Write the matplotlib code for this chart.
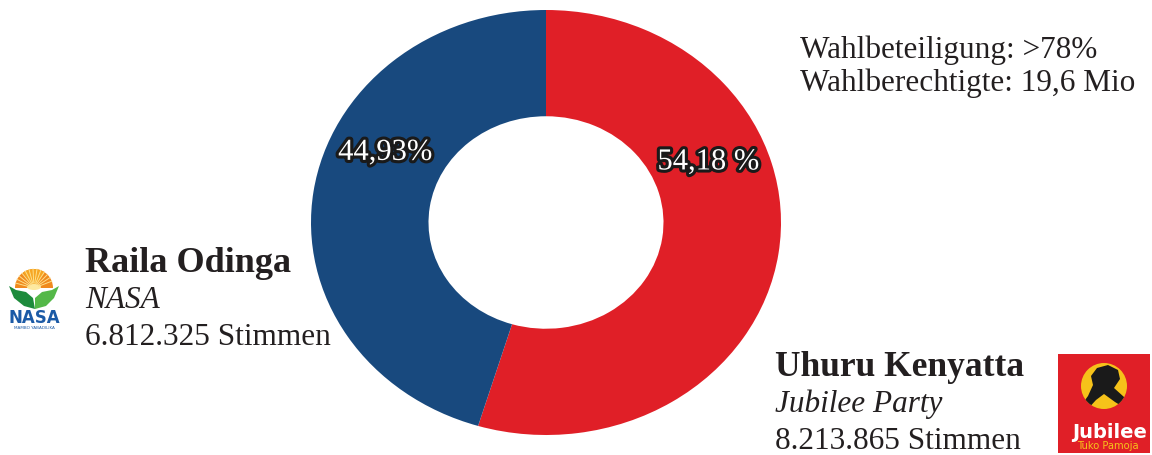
import matplotlib
matplotlib.use('Agg')
import numpy as np
import matplotlib.pyplot as plt
import matplotlib.patheffects as path_effects
from matplotlib.patches import Rectangle, Circle, Wedge, Polygon, Ellipse

plt.rcParams['font.family'] = ['Liberation Serif', 'DejaVu Serif']

# data
candidates = ['Uhuru Kenyatta', 'Raila Odinga']
parties = ['Jubilee Party', 'NASA']
shares = [54.18, 44.93]
share_labels = ['54,18 %', '44,93%']
votes = ['8.213.865 Stimmen', '6.812.325 Stimmen']
info_lines = ['Wahlbeteiligung: >78%', 'Wahlberechtigte: 19,6 Mio']

colors = {'red': '#E01F27', 'blue': '#18497E', 'text': '#231F20',
          'yellow': '#F6C21A', 'orange': '#F08A1E', 'green': '#2E9E46'}

W, H = 1152, 455
fig = plt.figure(figsize=(W / 100, H / 100), dpi=100)

# overlay axes in pixel coords
ax = fig.add_axes([0, 0, 1, 1])
ax.set_xlim(0, W)
ax.set_ylim(H, 0)
ax.axis('off')

# donut (stretched slightly, like the original)
axp = fig.add_axes([311 / W, (H - 435) / H, 470 / W, 425 / H])
axp.pie(shares, colors=[colors['red'], colors['blue']], startangle=90,
        counterclock=False, radius=1,
        wedgeprops=dict(width=0.5, linewidth=0))
axp.set_aspect('auto')
axp.set_xlim(-1, 1)
axp.set_ylim(-1, 1)
axp.axis('off')

stroke = [path_effects.withStroke(linewidth=4.5, foreground='#1a1a1a')]
label_pos = [(0.69, 0.285), (-0.685, 0.33)]
for (lx, ly), lab in zip(label_pos, share_labels):
    axp.text(lx, ly, lab, fontsize=22, color='white', ha='center', va='center',
             path_effects=stroke)

# candidate blocks
def candidate_block(x, y0, name, party, vote, name_size):
    ax.text(x, y0, name, fontsize=name_size, fontweight='bold', color=colors['text'],
            ha='left', va='baseline')
    ax.text(x, y0 + 36, party, fontsize=22.5, style='italic', color=colors['text'],
            ha='left', va='baseline')
    ax.text(x, y0 + 73, vote, fontsize=22.5, color=colors['text'],
            ha='left', va='baseline')

candidate_block(85, 272, candidates[1], parties[1], votes[1], 26)
candidate_block(775, 376, candidates[0], parties[0], votes[0], 25.5)

# info top right
for i, line in enumerate(info_lines):
    ax.text(800, 58 + 33 * i, line, fontsize=22.5, color=colors['text'],
            ha='left', va='baseline')

# NASA logo (rough)
cx, cy = 34, 288
ax.add_patch(Wedge((cx, cy), 19, 180, 360, facecolor=colors['orange'],
                   edgecolor='none'))
ax.add_patch(Wedge((cx, cy), 19, 235, 305, facecolor='#F6A623',
                   edgecolor='none'))
for a in range(195, 350, 12):
    t = np.deg2rad(a)
    ax.plot([cx + 5 * np.cos(t), cx + 19 * np.cos(t)],
            [cy + 5 * np.sin(t), cy + 19 * np.sin(t)],
            color='#FDE08A', lw=0.7)
ax.add_patch(Ellipse((cx, cy - 1), 14, 6, facecolor='#FDE9A0', edgecolor='none'))
ax.add_patch(Polygon([(9, 286), (16, 290), (26, 292), (33, 298), (35, 309),
                      (24, 306), (14, 298)],
                     closed=True, facecolor='#1E8B3C', edgecolor='none'))
ax.add_patch(Polygon([(59, 286), (52, 290), (42, 292), (35, 298), (35, 309),
                      (46, 306), (54, 298)],
                     closed=True, facecolor='#54B848', edgecolor='none'))
ax.text(cx, 318, 'NASA', family='DejaVu Sans', fontweight='bold', fontsize=12,
        color='#1B5AA6', ha='center', va='center')
ax.text(cx, 328, 'MAMBO YABADILIKA', family='DejaVu Sans', fontsize=3,
        color='#1B5AA6', ha='center', va='center')

# Jubilee logo (rough)
ax.add_patch(Rectangle((1058, 354), 92, 99, facecolor=colors['red'],
                       edgecolor='none'))
sun = Circle((1104, 386), 23, facecolor=colors['yellow'], edgecolor='none')
ax.add_patch(sun)
hands = Polygon([(1080, 407), (1088, 396), (1093, 385), (1091, 376), (1097, 368),
                 (1108, 365), (1118, 370), (1120, 379), (1114, 388), (1124, 397),
                 (1132, 403), (1128, 410), (1115, 402), (1104, 394), (1096, 400),
                 (1086, 411)],
                closed=True, facecolor='#1a1a1a', edgecolor='none')
ax.add_patch(hands)
hands.set_clip_path(sun)
ax.text(1110, 432, 'Jubilee', family='DejaVu Sans', fontweight='bold',
        fontsize=14, color='white', ha='center', va='center')
ax.text(1108, 446, 'Tuko Pamoja', family='DejaVu Sans', fontsize=7.2,
        color=colors['yellow'], ha='center', va='center')

fig.savefig('out.png', dpi=100, facecolor='white')
